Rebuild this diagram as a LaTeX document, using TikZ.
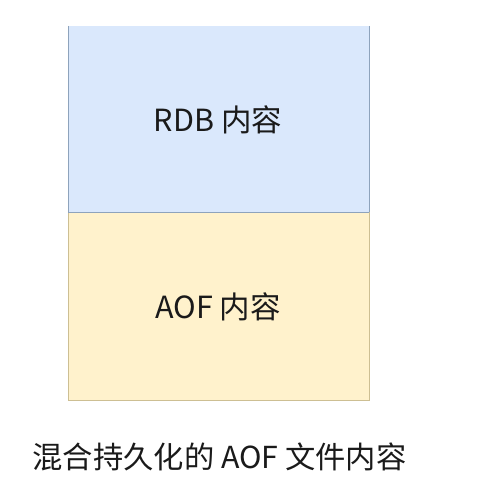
\documentclass[tikz,border=0pt]{standalone}
\usepackage{fontspec}
\setmainfont{Noto Sans CJK SC}
\definecolor{rdbfill}{HTML}{DAE8FC}
\definecolor{rdbline}{HTML}{8EA3BC}
\definecolor{aoffill}{HTML}{FFF2CC}
\definecolor{aofline}{HTML}{CDBF93}
\definecolor{txt}{HTML}{1A1A1A}
\begin{document}
\begin{tikzpicture}[x=1pt,y=-1pt,
  lbltext/.style={text=txt,font=\fontsize{30.5}{36}\selectfont,inner sep=0pt},
  captext/.style={text=txt,font=\fontsize{30.3}{36}\selectfont,inner sep=0pt}]
\useasboundingbox (0,0) rectangle (495,487);
% RDB part (top edge cut off)
\fill[rdbfill] (68,26) rectangle (369,212);
\draw[rdbline,line width=0.8pt] (68,26) -- (68,212) (369,26) -- (369,212);
% AOF part
\node[draw=aofline,fill=aoffill,line width=0.8pt,minimum width=301pt,minimum height=188pt,inner sep=0pt,anchor=north west] (aofbox) at (68,212) {};
\draw[rdbline,line width=0.8pt] (68,212) -- (369,212);
\node[lbltext] (rdb) at (218,120) {RDB 内容};
\node[lbltext] (aof) at (218,307) {AOF 内容};
\node[captext] (caption) at (219.5,457) {混合持久化的 AOF 文件内容};
\end{tikzpicture}
\end{document}
